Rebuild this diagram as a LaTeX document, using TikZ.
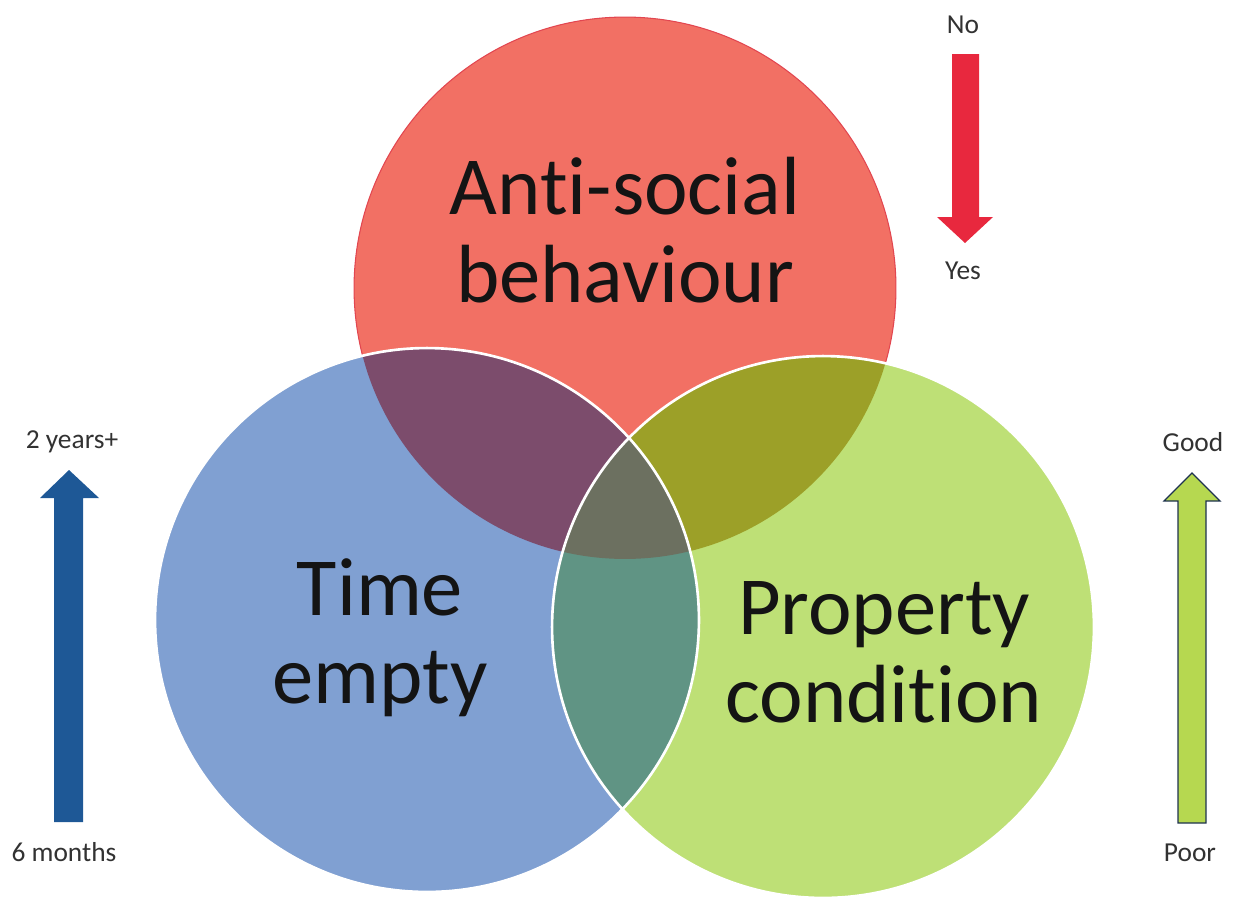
\documentclass[tikz,border=0pt]{standalone}
\usepackage{fontspec}
\setmainfont{Carlito}[Ligatures=NoCommon]
\definecolor{redonly}{RGB}{242,112,100}
\definecolor{redline}{RGB}{226,70,80}
\definecolor{blueonly}{RGB}{128,160,210}
\definecolor{greenonly}{RGB}{190,224,118}
\definecolor{redblue}{RGB}{124,76,108}
\definecolor{redgreen}{RGB}{156,160,40}
\definecolor{bluegreen}{RGB}{96,148,132}
\definecolor{allthree}{RGB}{108,112,96}
\definecolor{labeltext}{RGB}{20,20,20}
\definecolor{smalltext}{RGB}{50,50,50}
\definecolor{noarrow}{RGB}{232,40,62}
\definecolor{timearrow}{RGB}{30,88,150}
\definecolor{goodarrow}{RGB}{182,216,80}
\definecolor{goodedge}{RGB}{30,50,80}
\tikzset{
  biglabel/.style={text=labeltext,align=center,font=\fontsize{47}{50}\selectfont},
  smalllabel/.style={text=smalltext,font=\fontsize{15.6}{18}\selectfont},
  rim/.style={draw=white,line width=1.5pt}
}
\begin{document}
\begin{tikzpicture}[x=0.02cm,y=-0.02cm]
\useasboundingbox (0,0) rectangle (1236,900);
\coordinate (cred) at (625,288);
\coordinate (cblue) at (427,620);
\coordinate (cgreen) at (823,627);
% circles
\fill[redonly,draw=redline,line width=0.6pt] (cred) circle[radius=5.42cm];
\fill[blueonly] (cblue) circle[radius=5.44cm];
\fill[greenonly] (cgreen) circle[radius=5.42cm];
% overlaps
\begin{scope}
\clip (cred) circle[radius=5.42cm];
\fill[redblue] (cblue) circle[radius=5.44cm];
\fill[redgreen] (cgreen) circle[radius=5.42cm];
\clip (cblue) circle[radius=5.44cm];
\fill[allthree] (cgreen) circle[radius=5.42cm];
\end{scope}
\begin{scope}
\clip (cblue) circle[radius=5.44cm];
\clip (cgreen) circle[radius=5.42cm];
\fill[bluegreen] (cblue) circle[radius=5.44cm];
\clip (cred) circle[radius=5.42cm];
\fill[allthree] (cblue) circle[radius=5.44cm];
\end{scope}
\draw[rim] (cblue) circle[radius=5.44cm];
\draw[rim] (cgreen) circle[radius=5.42cm];
% big labels (base = last line)
\node[biglabel,anchor=base] (asb) at (625,302) {Anti-social\\behaviour};
\node[biglabel,anchor=base] (timeempty) at (380,703) {Time\\empty};
\node[biglabel,anchor=base] (propcond) at (884,722) {Property\\condition};
% arrows
\fill[noarrow] (952,54) -- (979,54) -- (979,217) -- (993,217) -- (965,243)
  -- (937,217) -- (952,217) -- cycle;
\fill[timearrow] (54,822) -- (83,822) -- (83,498) -- (99,498) -- (69,470)
  -- (40,498) -- (54,498) -- cycle;
\filldraw[fill=goodarrow,draw=goodedge,line width=0.7pt] (1178,823) -- (1206,823)
  -- (1206,501) -- (1220,501) -- (1192,473) -- (1164,501) -- (1178,501) -- cycle;
% end labels
\node[smalllabel] (no) at (963,25) {No};
\node[smalllabel] (yes) at (963,271) {Yes};
\node[smalllabel] (twoyears) at (72,442) {2 years+};
\node[smalllabel] (sixmonths) at (64,852) {6 months};
\node[smalllabel] (good) at (1193,442) {Good};
\node[smalllabel] (poor) at (1190,853) {Poor};
\end{tikzpicture}
\end{document}
